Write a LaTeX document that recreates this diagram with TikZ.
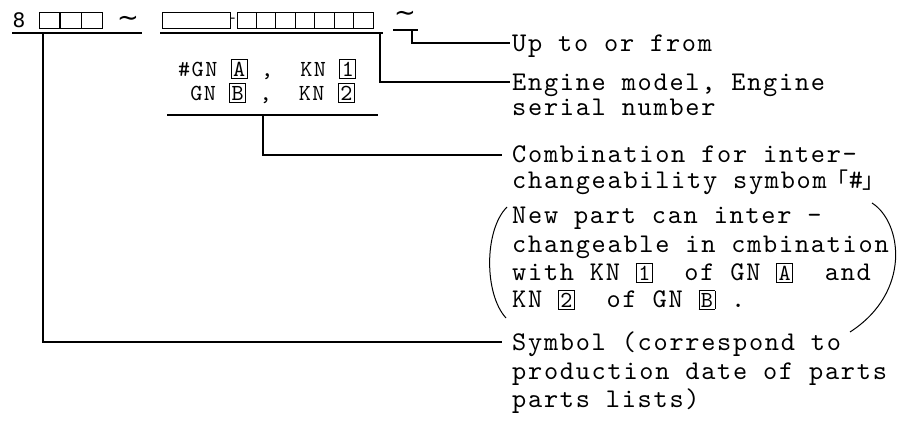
\documentclass[tikz,border=0pt]{standalone}
\usepackage{fontspec}
\newfontfamily\tild{DejaVu Sans}
\newfontfamily\cjk{Noto Sans CJK SC}
\newfontfamily\tw{lmmono10-regular.otf}[LetterSpace=6.4]
\newfontfamily\twb{lmmono10-regular.otf}
\newcommand{\kbox}[1]{{\setlength{\fboxsep}{1.5pt}\setlength{\fboxrule}{0.8pt}\fbox{\twb\fontsize{23}{23}\selectfont\vphantom{1}#1}}}
\begin{document}
\begin{tikzpicture}[x=1pt,y=-1pt,
  lbl/.style={anchor=base west,inner sep=0pt,font=\tw\fontsize{27}{27}\selectfont},
  mid/.style={anchor=base west,inner sep=0pt,font=\tw\fontsize{23}{23}\selectfont},
  sbox/.style={draw,line width=0.8pt,inner sep=0pt,minimum height=16.5,minimum width=19.4},
  tl/.style={inner sep=0pt,font=\tild\fontsize{26}{26}\selectfont},
  conn/.style={line width=1.1pt},
  uline/.style={line width=1.1pt}]
\useasboundingbox (0,0) rectangle (912,447);
% top row
\node[inner sep=0pt,font=\tild\fontsize{20}{20}\selectfont] (n8) at (19,20) {8};
\node[sbox,minimum width=20.5] (b1) at (49.5,20.5) {};
\node[sbox,minimum width=20.5] (b2) at (71,20.5) {};
\node[sbox,minimum width=20.5] (b3) at (92,20.5) {};
\node[tl] (t1) at (128,21) {\textasciitilde};
\draw[uline] (12,33) coordinate (ua) -- (142,33) coordinate (ub);
\node[sbox,minimum width=68] (bb) at (196,20.5) {};
\node[inner sep=0pt,font=\tild\fontsize{14}{14}\selectfont] (dsh) at (233,20) {-};
\foreach \i in {0,...,6}{
  \node[sbox] (s\i) at ({246.7+19.43*\i},20.5) {};
}
\draw[uline] (160,33) coordinate (uc) -- (383,33) coordinate (ud);
\node[tl] (t2) at (405,16) {\textasciitilde};
\draw[uline] (393,30) coordinate (ue) -- (418,30) coordinate (uf);
% middle block
\node[mid] (g1) at (178,76) {\#GN~\kbox{A}~,~~KN~\kbox{1}};
\node[mid] (g2) at (178,100) {\hphantom{\#}GN~\kbox{B}~,~~KN~\kbox{2}};
\draw[uline] (167,115) coordinate (ug) -- (378,115) coordinate (uh);
% labels
\node[lbl] (up) at (512,51) {Up to or from};
\node[lbl] (e1) at (512,90) {Engine model, Engine};
\node[lbl] (e2) at (512,115.5) {serial number};
\node[lbl] (c1) at (512,162) {Combination for inter-};
\node[lbl] (c2) at (512,188.5) {changeability symbom{\cjk\fontsize{22}{22}\selectfont 「}\#{\cjk\fontsize{22}{22}\selectfont 」}};
\node[lbl] (p1) at (512,223) {New part can inter –};
\node[lbl] (p2) at (512,252) {changeable in cmbination};
\node[lbl] (p3) at (512,280) {with~KN~\kbox{1}~~of~GN~\kbox{A}~~and};
\node[lbl] (p4) at (512,307) {KN~\kbox{2}~~of~GN~\kbox{B}~.};
\node[lbl] (y1) at (512,350) {Symbol (correspond to};
\node[lbl] (y2) at (512,379) {production date of parts};
\node[lbl] (y3) at (512,407) {parts lists)};
% connector ends
\coordinate (a3) at (412,30);
\coordinate (a2) at (380,33);
\coordinate (a4) at (263,115);
\coordinate (a1) at (43,33);
\coordinate (upin) at (510,43);
\coordinate (enin) at (510,82);
\coordinate (coin) at (502,155);
\coordinate (syin) at (502,342);
\draw[conn] (a3) |- (upin);
\draw[conn] (a2) |- (enin);
\draw[conn] (a4) |- (coin);
\draw[conn] (a1) |- (syin);
% parentheses
\draw[line width=1pt] (507,207) .. controls (484,230) and (484,294) .. (506,318);
\draw[line width=1pt] (872,203) .. controls (902,222) and (912,292) .. (850,332);
\end{tikzpicture}
\end{document}
